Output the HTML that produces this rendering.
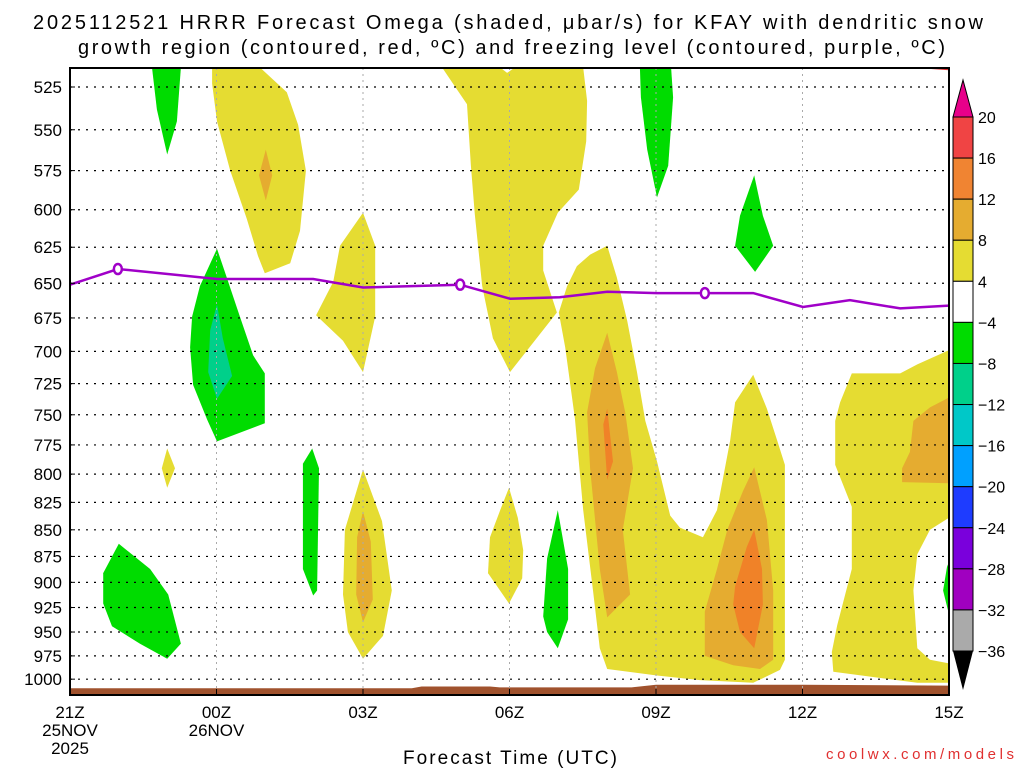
<!DOCTYPE html>
<html><head><meta charset="utf-8"><style>
body{margin:0;background:#fff;}
svg{display:block;font-family:"Liberation Sans",sans-serif;}
</style></head><body>
<svg id="chart" width="1024" height="768">
<g id="fills"></g>
<g id="grid"></g>
<g id="lines"></g>
<g id="axes"></g>
<g id="cbar"></g>
<text x="33" y="29" textLength="950" lengthAdjust="spacing" font-size="20">2025112521 HRRR Forecast Omega (shaded, μbar/s) for KFAY with dendritic snow</text>
<text x="78" y="54" textLength="867" lengthAdjust="spacing" font-size="20">growth region (contoured, red, ºC) and freezing level (contoured, purple, ºC)</text>
<text x="403" y="764" textLength="214" lengthAdjust="spacing" font-size="19">Forecast Time (UTC)</text>
<text x="826" y="759" textLength="188" lengthAdjust="spacing" font-size="15" fill="#e03030">coolwx.com/models</text>
</svg>
<script>
// ---- data ----
const pressureTicks=[525,550,575,600,625,650,675,700,725,750,775,800,825,850,875,900,925,950,975,1000];
const hourTicks=[0,3,6,9,12,15,18];
const hourLabels=["21Z","00Z","03Z","06Z","09Z","12Z","15Z"];
const dateLabels=[["25NOV","2025"],["26NOV"],[],[],[],[],[]];
const cbarLevels=[20,16,12,8,4,-4,-8,-12,-16,-20,-24,-28,-32,-36];
const cbarColors=["#f04444","#f08432","#e5ac30","#e5dc32","#ffffff","#00dc00","#00d08a","#00c8c8","#00a0ff","#1e3cff","#7a00dc","#a000c0","#aaaaaa"];
const yellowAreas=[
[[2.91,514],[3.89,514],[4.44,528],[4.67,547],[4.83,575],[4.71,614],[4.51,636],[3.99,643],[3.85,631],[3.62,606],[3.28,575],[3.01,545],[2.91,523]],
[[1.99,778],[2.15,795],[1.99,812],[1.88,795]],
[[6.00,602],[6.25,624],[6.25,674],[6.00,716],[5.59,692],[5.04,673],[5.39,649],[5.53,624]],
[[6.00,796],[6.39,842],[6.59,908],[6.41,954],[6.00,978],[5.69,950],[5.59,912],[5.63,850]],
[[7.62,514],[8.81,514],[8.95,517],[9.11,514],[10.51,514],[10.59,533],[10.57,557],[10.42,587],[9.99,602],[9.69,624],[9.69,641],[9.97,671],[9.01,716],[8.66,690],[8.44,652],[8.29,603],[8.21,572],[8.13,535],[7.84,523]],
[[8.99,812],[9.17,839],[9.28,869],[9.26,896],[8.99,921],[8.56,891],[8.60,857],[8.81,832]],
[[11.00,624],[11.20,646],[11.41,677],[11.61,716],[11.78,755],[12.02,789],[12.29,837],[12.49,848],[12.96,857],[13.25,832],[13.52,771],[13.62,740],[13.99,718],[14.27,745],[14.48,771],[14.64,792],[14.64,979],[14.54,990],[13.99,1004],[12.90,1001],[12.02,996],[11.00,989],[10.85,967],[10.71,908],[10.51,832],[10.34,753],[10.14,697],[10.01,671],[10.18,652],[10.38,638],[10.65,630]],
[[16.01,717],[17.00,717],[17.35,710],[18.00,699],[18.00,1004],[17.35,1004],[15.63,992],[15.60,971],[15.71,943],[16.01,887],[16.01,829],[15.67,792],[15.67,755],[15.77,740]]
];
const whiteAreas=[[[18.00,839],[17.61,850],[17.35,873],[17.27,908],[17.35,967],[17.61,979],[18.00,983]]];
const orangeAreas=[
[[4.01,562],[4.14,578],[4.01,594],[3.87,578]],
[[6.00,833],[6.16,861],[6.20,917],[6.00,940],[5.86,912],[5.88,857]],
[[11.00,686],[11.20,716],[11.37,748],[11.53,795],[11.32,850],[11.47,912],[11.00,935],[10.85,887],[10.65,795],[10.59,748],[10.75,713]],
[[14.01,794],[14.27,841],[14.40,908],[14.40,979],[14.13,989],[13.58,985],[13.00,975],[13.00,929],[13.25,887],[13.46,850],[13.78,815]],
[[18.00,736],[17.61,744],[17.27,755],[17.20,781],[17.04,795],[17.04,807],[18.00,808]]
];
const redOrangeAreas=[
[[11.00,745],[11.12,789],[11.00,805],[10.92,758]],
[[14.01,850],[14.17,887],[14.19,922],[14.01,967],[13.72,950],[13.58,922],[13.62,904],[13.86,866]]
];
const greenAreas=[
[[1.68,514],[2.27,514],[2.19,545],[1.99,565],[1.78,538]],
[[3.01,626],[3.21,646],[3.48,674],[3.75,703],[3.99,717],[3.99,757],[3.01,772],[2.81,754],[2.52,726],[2.46,697],[2.50,674],[2.66,652]],
[[1.00,863],[1.64,887],[2.01,912],[2.27,962],[1.99,978],[1.43,962],[0.86,944],[0.68,921],[0.68,891]],
[[4.96,778],[5.10,795],[5.06,908],[4.98,913],[4.77,887],[4.77,791]],
[[9.99,832],[10.20,887],[10.20,937],[9.99,967],[9.77,950],[9.69,934],[9.77,877]],
[[11.67,514],[12.31,514],[12.35,531],[12.25,572],[12.02,592],[11.82,562],[11.69,531]],
[[14.01,578],[14.19,604],[14.40,624],[14.03,642],[13.62,624],[13.72,604]],
[[18.00,880],[17.96,885],[17.88,908],[17.98,928],[18.00,930]]
];
const tealAreas=[[[3.01,665],[3.13,690],[3.32,719],[3.01,737],[2.83,716],[2.87,684]]];
const freezeHours=[0,0.98,3.01,4.98,6.00,7.99,9.01,10.03,11.00,12.02,13.00,13.99,15.01,15.97,17.00,18.00];
const freezeP=[651,640,647,647,653,651,661,660,656,657,657,657,667,662,668,666];
const freezeLabelHours=[0.98,7.99,13.0];
const dgzLine=[[17.0,513],[18.0,515]];
const groundHours=[0,7,7.2,8.6,8.8,11.5,12,15,18];
const groundP=[1010,1010,1008,1008,1009,1009,1006,1006,1007];

// ---- axes ----
const X0=70,X1=949,YT=68,YB=695;
const xs=h=>X0+(X1-X0)*h/18;
const ys=p=>87+919*Math.log(p/525);
const NS="http://www.w3.org/2000/svg";
function mk(tag,attrs,parent){const e=document.createElementNS(NS,tag);for(const k in attrs)e.setAttribute(k,attrs[k]);parent.appendChild(e);return e;}
const fills=document.getElementById('fills'),grid=document.getElementById('grid'),lines=document.getElementById('lines'),axes=document.getElementById('axes'),cbar=document.getElementById('cbar');
const clip=mk('clipPath',{id:'pc'},document.getElementById('chart'));
mk('rect',{x:X0,y:YT,width:X1-X0,height:YB-YT},clip);
fills.setAttribute('clip-path','url(#pc)');
lines.setAttribute('clip-path','url(#pc)');
const pts=a=>a.map(d=>xs(d[0]).toFixed(1)+','+ys(d[1]).toFixed(1)).join(' ');
function drawAreas(list,color,name){list.forEach(a=>{const e=mk('polygon',{points:pts(a),fill:color},fills);

});}
drawAreas(yellowAreas,'#e5dc32','omega-4-8-area');
drawAreas(whiteAreas,'#ffffff','omega-neutral-area');
drawAreas(orangeAreas,'#e5ac30','omega-8-12-area');
drawAreas(redOrangeAreas,'#f08228','omega-12-16-area');
drawAreas(greenAreas,'#00dc00','omega-neg4-neg8-area');
drawAreas(tealAreas,'#00d08a','omega-neg8-neg12-area');
// ground
let gp=[[0,1030]].concat(groundHours.map((h,i)=>[h,groundP[i]])).concat([[18,1030]]);
const g=mk('polygon',{points:pts(gp),fill:'#a0522d'},fills);


// grid
pressureTicks.forEach(p=>{const l=mk('line',{x1:X0,x2:X1,y1:ys(p),y2:ys(p),stroke:'#000','stroke-width':1.2,'stroke-dasharray':'2,6'},grid);

});
hourTicks.slice(1,-1).forEach(h=>{const l=mk('line',{x1:xs(h),x2:xs(h),y1:YT,y2:YB,stroke:'#aaa','stroke-width':1,'stroke-dasharray':'2,4'},grid);

});
// freezing line
const fl=mk('polyline',{points:pts(freezeHours.map((h,i)=>[h,freezeP[i]])),fill:'none',stroke:'#a000c8','stroke-width':2.5},lines);


freezeLabelHours.forEach(h=>{let i=1;while(i<freezeHours.length-1&&freezeHours[i]<h)i++;
const t=(h-freezeHours[i-1])/(freezeHours[i]-freezeHours[i-1]);const p=freezeP[i-1]+t*(freezeP[i]-freezeP[i-1]);
const e=mk('ellipse',{cx:xs(h),cy:ys(p),rx:4,ry:5,fill:'#fff',stroke:'#a000c8','stroke-width':2.5},lines);

});
const dl=mk('polyline',{points:pts(dgzLine),fill:'none',stroke:'#e03030','stroke-width':2},lines);


// frame & labels
const fr=mk('rect',{x:X0,y:YT,width:X1-X0,height:YB-YT,fill:'none',stroke:'#000','stroke-width':2},axes);


pressureTicks.forEach(p=>{const t=mk('text',{x:62,y:ys(p)+6,'text-anchor':'end','font-size':17},axes);t.textContent=p;


mk('line',{x1:X0,x2:X0+5,y1:ys(p),y2:ys(p),stroke:'#000'},axes);});
hourTicks.forEach((h,i)=>{mk('line',{x1:xs(h),x2:xs(h),y1:YB,y2:YB-6,stroke:'#000'},axes);
const t=mk('text',{x:xs(h),y:718,'text-anchor':'middle','font-size':17},axes);t.textContent=hourLabels[i];


dateLabels[i].forEach((s,j)=>{const d=mk('text',{x:xs(h),y:736+j*18,'text-anchor':'middle','font-size':17},axes);d.textContent=s;

});});
// colorbar
const CX=953,CW=20,CT=117,CB=651;const step=(CB-CT)/(cbarLevels.length-1);
cbarColors.forEach((c,i)=>{const r=mk('rect',{x:CX,y:CT+i*step,width:CW,height:step,fill:c,stroke:'#000','stroke-width':1},cbar);

});
const tu=mk('polygon',{points:`${CX},${CT} ${CX+CW},${CT} ${CX+CW/2},80`,fill:'#e8008a',stroke:'#000'},cbar);


const td=mk('polygon',{points:`${CX},${CB} ${CX+CW},${CB} ${CX+CW/2},690`,fill:'#000'},cbar);


cbarLevels.forEach((v,i)=>{const t=mk('text',{x:CX+CW+5,y:CT+i*step+6,'font-size':16},cbar);t.textContent=v<0?'−'+(-v):v;

});
</script>
</body></html>
